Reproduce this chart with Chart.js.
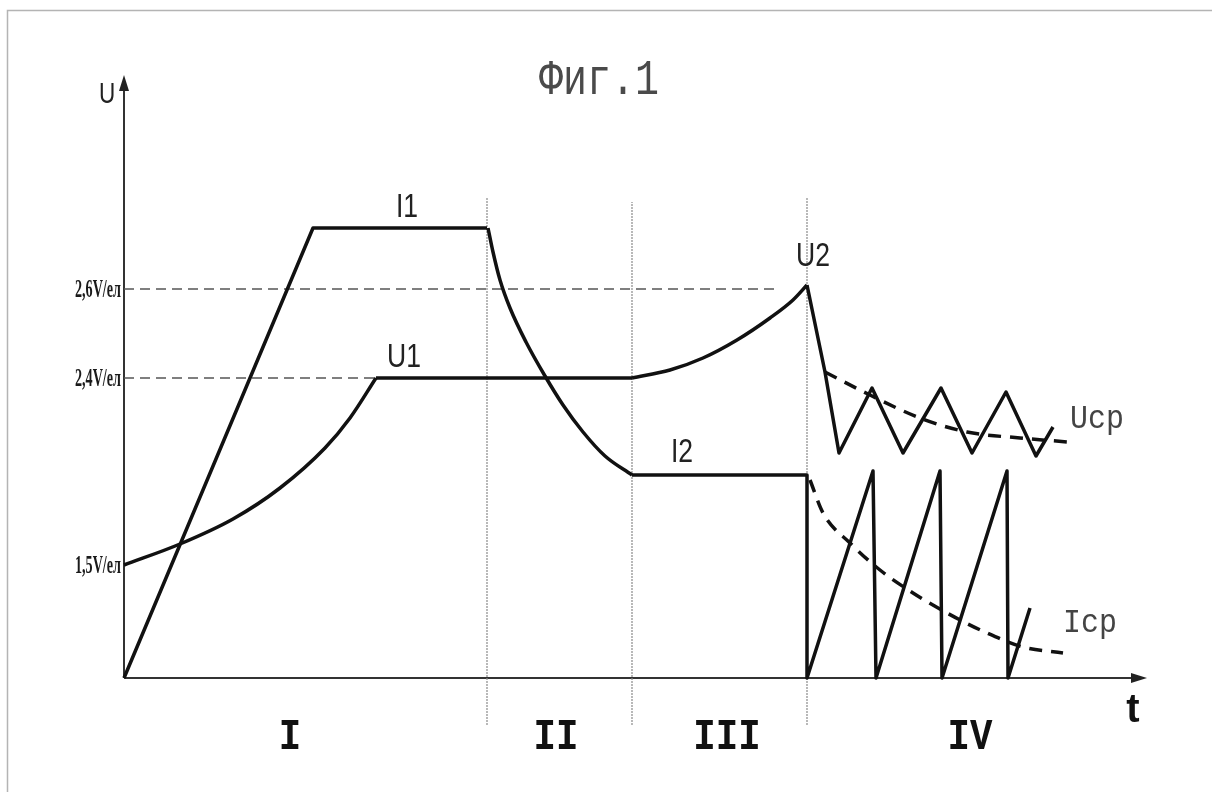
<!DOCTYPE html>
<html lang="ru">
<head>
  <meta charset="UTF-8">
  <title>Фиг.1</title>
  <style>
    body {
      margin: 0;
      background: #fff;
      overflow: hidden;
    }
    canvas {
      display: block;
    }
  </style>
  <script src="https://cdn.jsdelivr.net/npm/chart.js"></script>
</head>
<body>
  <canvas id="fig" width="1212" height="792"></canvas>

  <script>
    // values (t and level in drawing units, origin at the axes corner)
    const iRampT   = [0, 189, 363];
    const iRampV   = [0, 450, 450];
    const iDecayT  = [364, 369, 376, 386, 402, 421, 439, 459, 481, 508];
    const iDecayV  = [450, 426, 398, 370, 336, 302, 273, 246, 222, 203];
    const iPulseT  = [508, 683, 683, 749, 752, 816, 818, 883, 884, 906];
    const iPulseV  = [203, 203, 0, 207, 0, 207, 0, 207, 0, 70];

    const uRiseT   = [0, 56, 109, 156, 201, 226, 252];
    const uRiseV   = [113, 134, 159, 190, 230, 260, 300];
    const uHoldT   = [252, 508];
    const uHoldV   = [300, 300];
    const uRise2T  = [508, 546, 579, 613, 646, 669, 683];
    const uRise2V  = [300, 308, 320, 338, 360, 378, 393];
    const uPulseT  = [683, 701, 715, 748, 779, 817, 848, 882, 912, 929];
    const uPulseV  = [393, 306, 225, 290, 225, 290, 225, 286, 222, 251];

    const uAvgT    = [701, 746, 796, 843, 896, 944];
    const uAvgV    = [306, 283, 260, 246, 240, 236];
    const iAvgT    = [686, 699, 726, 756, 789, 823, 863, 899, 939];
    const iAvgV    = [198, 165, 135, 108, 85, 65, 45, 31, 25];

    const stageBounds = [363, 508, 683];
    const stageTops   = [481, 476, 481];
    const stageNames  = ['I', 'II', 'III', 'IV'];
    const stageMids   = [166, 432, 603, 846];

    const levelValues = [389, 300, 113];
    const levelLabels = ['2,6V/ел', '2,4V/ел', '1,5V/ел'];
    const levelEnds   = [653, 251];

    const pts = (xs, ys) => xs.map((x, i) => ({ x: x, y: ys[i] }));

    const ink = '#111';
    const solid = (data, curved) => ({
      data: data,
      borderColor: ink,
      borderWidth: 3.5,
      borderJoinStyle: 'round',
      pointRadius: 0,
      fill: false,
      tension: 0,
      cubicInterpolationMode: curved ? 'monotone' : 'default',
      clip: false,
      order: 1
    });
    const dashed = (data) => Object.assign(solid(data, true), { borderDash: [13, 9] });
    const guide = (data) => ({
      data: data,
      borderColor: '#555',
      borderWidth: 1.3,
      borderDash: [10, 6],
      pointRadius: 0,
      tension: 0,
      clip: false,
      order: 5
    });
    const divider = (x, top) => ({
      data: [{ x: x, y: -47 }, { x: x, y: top }],
      borderColor: '#8a8a8a',
      borderWidth: 1.2,
      borderDash: [2, 1],
      pointRadius: 0,
      tension: 0,
      clip: false,
      order: 6
    });

    const datasets = [
      solid(pts(iRampT, iRampV)),
      solid(pts(iDecayT, iDecayV), true),
      solid(pts(iPulseT, iPulseV)),
      solid(pts(uRiseT, uRiseV), true),
      solid(pts(uHoldT, uHoldV)),
      solid(pts(uRise2T, uRise2V), true),
      solid(pts(uPulseT, uPulseV)),
      dashed(pts(uAvgT, uAvgV)),
      dashed(pts(iAvgT, iAvgV)),
      guide([{ x: 0, y: levelValues[0] }, { x: levelEnds[0], y: levelValues[0] }]),
      guide([{ x: 0, y: levelValues[1] }, { x: levelEnds[1], y: levelValues[1] }])
    ];
    stageBounds.forEach((x, i) => datasets.push(divider(x, stageTops[i])));

    // text drawn with a horizontal squeeze, the figure uses narrow faces
    function text(ctx, str, x, y, font, align, sx, color) {
      ctx.save();
      ctx.font = font;
      ctx.fillStyle = color;
      ctx.textAlign = align;
      ctx.textBaseline = 'alphabetic';
      ctx.translate(x, y);
      ctx.scale(sx, 1);
      ctx.fillText(str, 0, 0);
      ctx.restore();
    }

    const figurePlugin = {
      id: 'figure',
      beforeDatasetsDraw(chart) {
        const ctx = chart.ctx;
        const xs = chart.scales.x, ys = chart.scales.y;
        const x0 = xs.getPixelForValue(0), y0 = ys.getPixelForValue(0);
        const xEnd = xs.getPixelForValue(xs.max), yEnd = ys.getPixelForValue(ys.max);

        // page frame
        ctx.save();
        ctx.strokeStyle = '#b4b4b4';
        ctx.lineWidth = 1.5;
        ctx.beginPath();
        ctx.moveTo(7.5, 792);
        ctx.lineTo(7.5, 10.5);
        ctx.lineTo(1212, 10.5);
        ctx.stroke();

        // axes with arrows
        ctx.strokeStyle = '#333';
        ctx.fillStyle = '#222';
        ctx.lineWidth = 2;
        ctx.beginPath();
        ctx.moveTo(x0, y0);
        ctx.lineTo(x0, yEnd + 12);
        ctx.moveTo(x0, y0);
        ctx.lineTo(xEnd - 12, y0);
        ctx.stroke();
        ctx.beginPath();
        ctx.moveTo(x0, yEnd);
        ctx.lineTo(x0 - 5, yEnd + 16);
        ctx.lineTo(x0 + 5, yEnd + 16);
        ctx.closePath();
        ctx.fill();
        ctx.beginPath();
        ctx.moveTo(xEnd, y0);
        ctx.lineTo(xEnd - 16, y0 - 5);
        ctx.lineTo(xEnd - 16, y0 + 5);
        ctx.closePath();
        ctx.fill();
        ctx.restore();

        // level tick labels, squeezed to the narrow bold serif of the figure
        const tickFont = 'bold 26px "Liberation Serif"';
        levelLabels.forEach((lab, i) => {
          const py = ys.getPixelForValue(levelValues[i]);
          ctx.save();
          ctx.font = tickFont;
          const w = ctx.measureText(lab).width;
          ctx.restore();
          text(ctx, lab, x0 - 3, py + 8, tickFont, 'right', 46 / w, '#1a1a1a');
        });
      },
      afterDatasetsDraw(chart) {
        const ctx = chart.ctx;
        const xs = chart.scales.x, ys = chart.scales.y;
        const px = v => xs.getPixelForValue(v);
        const py = v => ys.getPixelForValue(v);
        const sans = '34px "Liberation Sans"';
        const mono = '34px "Liberation Mono"';

        text(ctx, 'Фиг.1', 599, 94, '50px "Liberation Mono"', 'center', 0.8, '#4a4a4a');
        text(ctx, 'U', px(-17), py(575), '30px "Liberation Sans"', 'center', 0.75, '#222');
        text(ctx, 't', px(1009), py(-44), 'bold 40px "Liberation Sans"', 'center', 1, '#111');

        text(ctx, 'I1', px(283), py(461), sans, 'center', 0.78, '#222');
        text(ctx, 'U1', px(280), py(311), sans, 'center', 0.78, '#222');
        text(ctx, 'I2', px(558), py(216), sans, 'center', 0.78, '#222');
        text(ctx, 'U2', px(689), py(412), sans, 'center', 0.78, '#222');
        text(ctx, 'Ucp', px(946), py(250), mono, 'left', 0.88, '#444');
        text(ctx, 'Icp', px(939), py(46), mono, 'left', 0.88, '#444');

        stageNames.forEach((s, i) => {
          text(ctx, s, px(stageMids[i]), py(-71), 'bold 44px "Liberation Mono"', 'center', 0.85, '#111');
        });
      }
    };

    new Chart(document.getElementById('fig'), {
      type: 'line',
      data: { datasets: datasets },
      options: {
        responsive: false,
        animation: false,
        devicePixelRatio: 1,
        layout: { padding: { left: 124, right: 65, top: 75, bottom: 114 } },
        scales: {
          x: { type: 'linear', min: 0, max: 1023, display: false },
          y: { type: 'linear', min: 0, max: 603, display: false }
        },
        plugins: {
          legend: { display: false },
          tooltip: { enabled: false }
        }
      },
      plugins: [figurePlugin]
    });
  </script>
</body>
</html>
